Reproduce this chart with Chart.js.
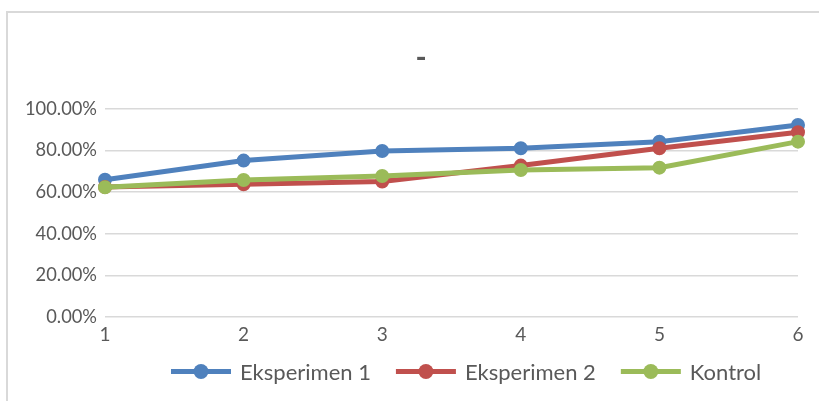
<!DOCTYPE html>
<html>
<head>
<meta charset="utf-8">
<script src="https://cdn.jsdelivr.net/npm/chart.js@4.4.1/dist/chart.umd.min.js"></script>
<style>
  html, body { margin: 0; padding: 0; background: #ffffff; overflow: hidden; }
  #wrap { position: relative; width: 819px; height: 401px; }
  canvas { display: block; }
</style>
</head>
<body>
<div id="wrap"><canvas id="chart" width="819" height="401"></canvas></div>
<script>
// Categories (trial number) and the three series, as fractions
const categories = ['1', '2', '3', '4', '5', '6'];
const seriesNames = ['Eksperimen 1', 'Eksperimen 2', 'Kontrol'];
const eksperimen1 = [0.660, 0.752, 0.798, 0.811, 0.843, 0.923];
const eksperimen2 = [0.625, 0.638, 0.651, 0.728, 0.811, 0.888];
const kontrol     = [0.624, 0.659, 0.678, 0.707, 0.718, 0.843];
const yTicks = [0, 0.2, 0.4, 0.6, 0.8, 1.0];
const chartTitle = '-';

const colors = ['#4F81BD', '#C0504D', '#9BBB59'];
const fontFamily = 'Lato, "Open Sans", sans-serif';
const textColor = '#595959';

// Outer frame, title and the line-with-marker legend
const decorPlugin = {
  id: 'decor',
  beforeDraw(chart) {
    const ctx = chart.ctx;
    ctx.save();
    ctx.fillStyle = '#d9d9d9';
    ctx.fillRect(6, 11, 2, 401);
    ctx.fillRect(6, 11, 819, 2);
    ctx.restore();
  },
  afterDraw(chart) {
    const ctx = chart.ctx;
    ctx.save();
    ctx.fillStyle = textColor;
    ctx.font = 'bold 30px ' + fontFamily;
    ctx.textAlign = 'center';
    ctx.textBaseline = 'middle';
    ctx.fillText(chartTitle, 421, 58);

    ctx.font = '22px ' + fontFamily;
    ctx.textAlign = 'left';
    let x = 171;
    const y = 371.5;
    chart.data.datasets.forEach((ds) => {
      ctx.strokeStyle = ds.borderColor;
      ctx.lineWidth = 5;
      ctx.beginPath();
      ctx.moveTo(x, y);
      ctx.lineTo(x + 60, y);
      ctx.stroke();
      ctx.fillStyle = ds.borderColor;
      ctx.beginPath();
      ctx.arc(x + 30, y, 7.5, 0, Math.PI * 2);
      ctx.fill();
      ctx.fillStyle = textColor;
      ctx.fillText(ds.label, x + 69, y + 1);
      x += 69 + ctx.measureText(ds.label).width + 25;
    });
    ctx.restore();
  }
};

function makeSet(label, data, color, order) {
  return {
    label, data, order,
    borderColor: color,
    backgroundColor: color,
    borderWidth: 5,
    pointRadius: 6,
    pointBorderWidth: 2,
    pointBackgroundColor: color,
    pointBorderColor: color,
    tension: 0,
    fill: false
  };
}

new Chart(document.getElementById('chart'), {
  type: 'line',
  data: {
    labels: categories,
    datasets: [
      makeSet(seriesNames[0], eksperimen1, colors[0], 3),
      makeSet(seriesNames[1], eksperimen2, colors[1], 2),
      makeSet(seriesNames[2], kontrol, colors[2], 1)
    ]
  },
  options: {
    responsive: false,
    animation: false,
    layout: { padding: { top: 109, right: 21, left: 0, bottom: 0 } },
    plugins: {
      legend: { display: false },
      title: { display: false },
      tooltip: { enabled: false }
    },
    scales: {
      x: {
        offset: false,
        grid: { display: false, drawTicks: false },
        border: { display: false },
        ticks: { color: textColor, font: { family: fontFamily, size: 19 }, padding: 6, maxRotation: 0 },
        afterFit(scale) { scale.height = 84; }
      },
      y: {
        min: 0,
        max: 1,
        afterBuildTicks(scale) { scale.ticks = yTicks.map(v => ({ value: v })); },
        grid: { color: '#d9d9d9', lineWidth: 1.5, drawTicks: false },
        border: { display: false },
        ticks: {
          color: textColor,
          font: { family: fontFamily, size: 18.3 },
          padding: 8,
          callback: (v) => (v * 100).toFixed(2) + '%'
        },
        afterFit(scale) { scale.width = 105; }
      }
    }
  },
  plugins: [decorPlugin]
});
</script>
</body>
</html>
